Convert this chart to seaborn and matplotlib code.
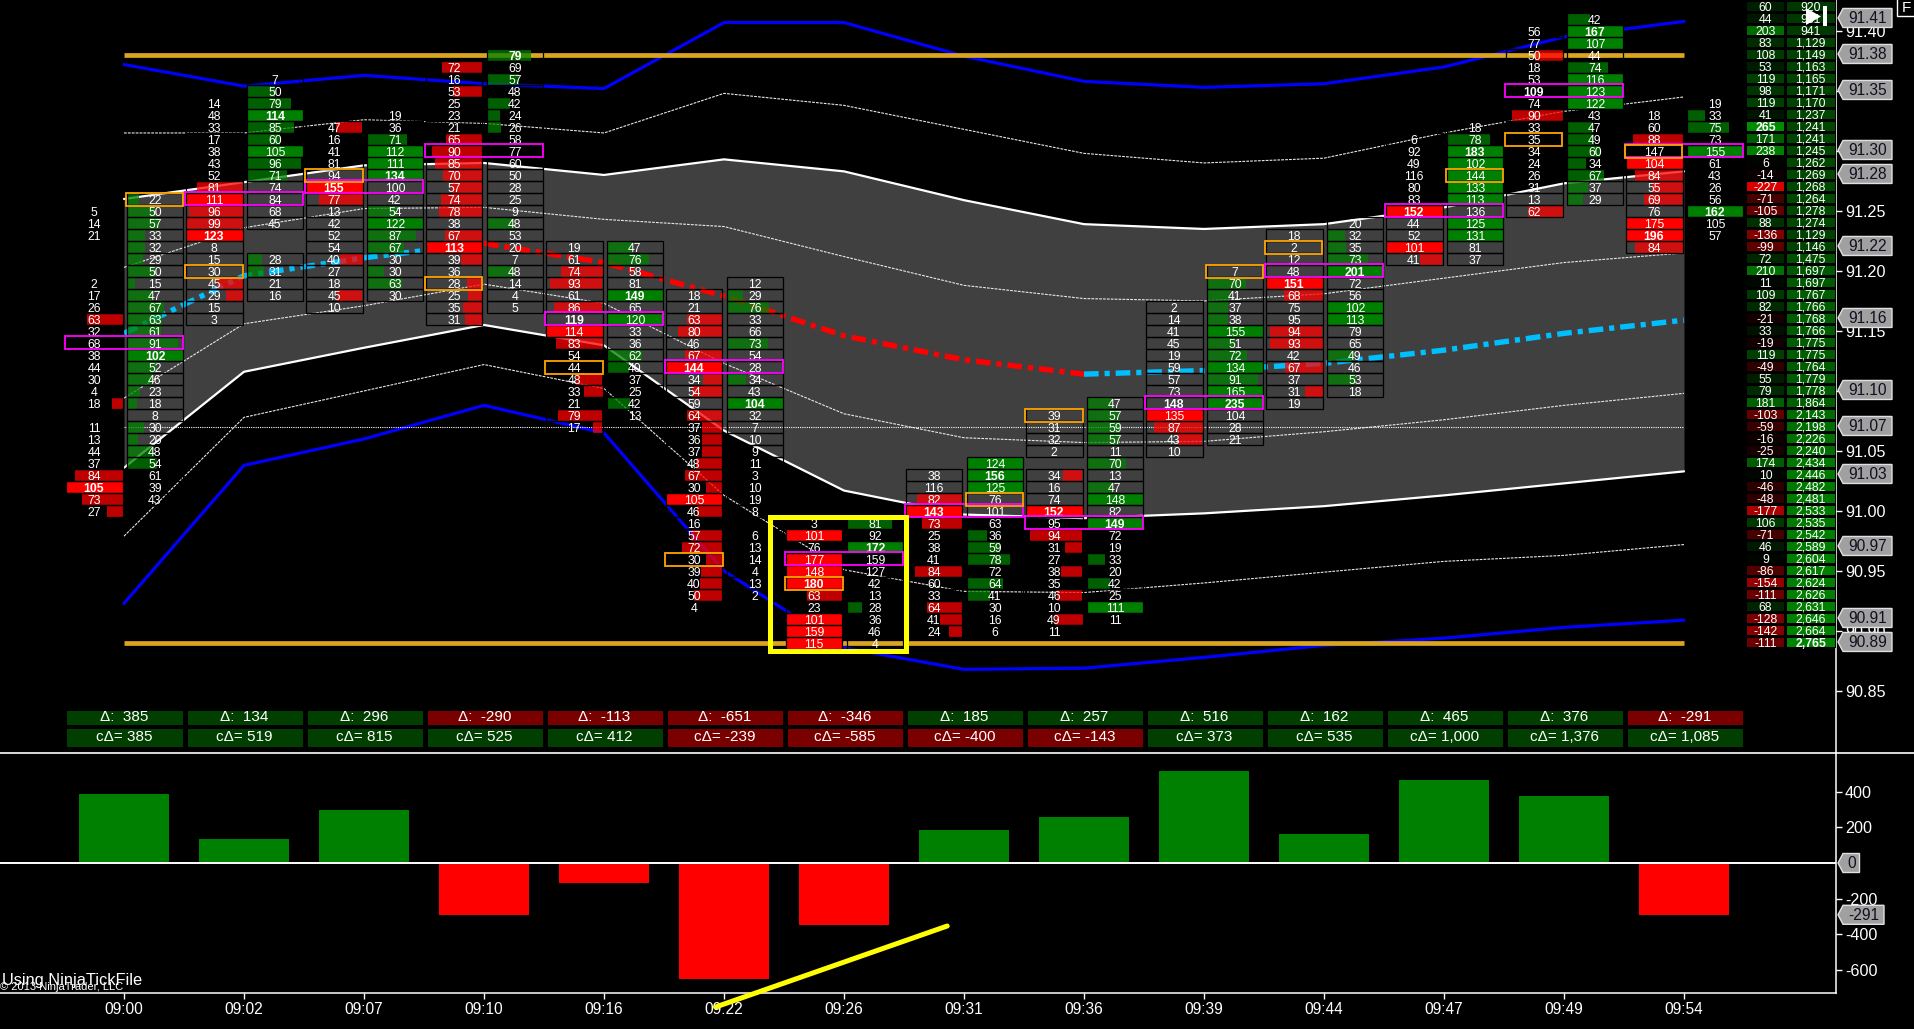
import numpy as np
import pandas as pd
import matplotlib
matplotlib.use("Agg")
import matplotlib.pyplot as plt
from matplotlib.colors import LinearSegmentedColormap, ListedColormap
from matplotlib.lines import Line2D
from matplotlib.patches import Polygon, Rectangle
from matplotlib.transforms import IdentityTransform
import seaborn as sns

times = ["09:00","09:02","09:07","09:10","09:16","09:22","09:26","09:31","09:36","09:39","09:44","09:47","09:49","09:54"]
delta = [385,134,296,-290,-113,-651,-346,185,257,516,162,465,376,-291]
cum_delta = [385,519,815,525,412,-239,-585,-400,-143,373,535,1000,1376,1085]

bid_top = [91.25,91.34,91.32,91.37,91.22,91.18,90.99,91.03,91.08,91.17,91.23,91.31,91.40,91.33]
ask_top = [91.26,91.36,91.33,91.38,91.22,91.19,90.99,91.04,91.09,91.20,91.24,91.32,91.41,91.34]

bid_vol = [
 [5,14,21,None,None,None,2,17,26,63,32,68,38,44,30,4,18,None,11,13,44,37,84,105,73,27],
 [14,48,33,17,38,43,52,81,111,96,99,123,8,15,30,45,29,15,3],
 [47,16,41,81,94,155,77,13,42,52,54,40,27,18,45,10],
 [72,16,53,25,23,21,65,90,85,70,57,74,78,38,67,113,39,36,28,25,35,31],
 [19,61,74,93,61,86,119,114,83,54,44,48,33,21,79,17],
 [18,21,63,80,46,67,144,34,54,59,64,37,36,37,48,67,30,105,46,16,57,72,30,39,40,50,4],
 [3,101,76,177,148,180,63,23,101,159,115],
 [38,116,82,143,73,25,38,41,84,60,33,64,41,24],
 [39,31,32,2,None,34,16,74,152,95,94,31,27,38,35,46,10,49,11],
 [2,14,41,45,19,59,57,73,148,135,87,43,10],
 [18,2,12,48,151,68,75,95,94,93,42,67,37,31,19],
 [6,92,49,116,80,83,152,44,52,101,41],
 [56,77,50,18,53,109,74,90,33,35,34,24,26,31,13,62],
 [18,60,88,147,104,84,55,69,76,175,196,84],
]
ask_vol = [
 [22,50,57,33,32,29,50,15,47,67,63,61,91,102,52,46,23,18,8,30,20,48,54,61,39,43],
 [7,50,79,114,85,60,105,96,71,74,84,68,45,None,None,28,31,21,16],
 [19,36,71,112,111,134,100,42,54,122,87,67,30,30,63,30],
 [79,69,57,48,42,24,26,58,77,60,50,28,25,9,48,53,20,7,48,14,4,5],
 [47,76,58,81,149,65,120,33,36,62,40,37,25,42,13],
 [12,29,76,33,66,73,54,28,34,43,104,32,7,10,9,11,3,10,19,8,None,6,13,14,4,13,2],
 [81,92,172,159,127,42,13,28,36,46,4],
 [124,156,125,76,101,63,36,59,78,72,64,41,30,16,6],
 [47,57,59,57,11,70,13,47,148,82,149,72,19,33,20,42,25,111,11],
 [7,70,41,37,38,155,51,72,134,91,165,235,104,28,21],
 [20,32,35,73,201,72,56,102,113,79,65,49,46,53,18],
 [18,78,183,102,144,133,113,136,125,131,81,37],
 [42,167,107,44,74,116,123,122,43,47,49,60,34,67,37,29],
 [19,33,75,73,155,61,43,26,56,162,105,57],
]
bid_imbalance = [
 "000000000 1 000000 1 00000 1111",
 "0000000 11111 000 11 00",
 "1 0000 11 0000 1 00 1 0",
 "1 0 1 000 1111111 0 111 0 1111",
 "00 11 0 1 0 11 00 11 0 11",
 "00 11 0 1111 0 111111111 0 111111 0",
 "0 1 0 1111 0 111",
 "00 111 000 1 00 111",
 "0000 0 1 00 1 0 11 0 1 0 1 0 1 0",
 "00000000 0 111 0",
 "0000 11 00 11 0 1 0 1 0",
 "000000 1 00 11",
 "00 1 0000 1 0000000 1",
 "00 1 0 1111 0 111",
]
ask_imbalance = [
 "111111111111111111 0 1111 000",
 "0 11111111 0000 00 11 00",
 "00 1111 00 1111 0 11 0",
 "1 0 1 0 111 0000000 1 000 1 000",
 "11 00 1 0 1 00 11 00 1 0",
 "0 11 00 1 00 1 0 1 0000000000000000",
 "1 0 1 0000 1 000",
 "111 000 111 0 11 000",
 "1111 0 1 0 11 0 1 00 1 0 1 0 1 0",
 "0 11111111111 000",
 "0 1111 00 11 00 1 0 1 0",
 "0 111111 0 11 00",
 "111 0 1111 0 1111111",
 "0 11 0 1 0000 1 00",
]
poc_price = [91.14,91.26,91.27,91.30,91.16,91.12,90.96,91.00,90.99,91.09,91.20,91.25,91.35,91.30]
va_side = ["ask","bid","bid","bid","bid","bid","bid","ask","bid","ask","bid","ask","bid","bid"]
va_price = [91.26,91.20,91.28,91.19,91.12,90.96,90.94,91.01,91.08,91.20,91.22,91.28,91.31,91.30]

upper_blue = [91.372,91.354,91.363,91.356,91.352,91.407,91.407,91.379,91.358,91.353,91.356,91.370,91.395,91.408]
dash_a = [91.315,91.315,91.326,91.323,91.315,91.348,91.338,91.318,91.298,91.290,91.294,91.315,91.333,91.345]
band_top = [91.260,91.274,91.288,91.290,91.280,91.293,91.283,91.259,91.239,91.235,91.239,91.253,91.273,91.283]
dash_b = [91.203,91.236,91.252,91.253,91.243,91.237,91.212,91.188,91.177,91.175,91.181,91.194,91.207,91.215]
ema = [91.148,91.196,91.211,91.223,91.207,91.179,91.146,91.126,91.114,91.117,91.123,91.134,91.148,91.159]
dash_c = [91.094,91.156,91.171,91.189,91.173,91.123,91.081,91.061,91.057,91.058,91.066,91.076,91.088,91.098]
band_bot = [91.036,91.116,91.136,91.155,91.138,91.067,91.017,90.997,90.994,90.998,91.004,91.013,91.023,91.033]
dash_d = [90.979,91.078,91.100,91.122,91.102,91.013,90.951,90.933,90.932,90.940,90.949,90.958,90.963,90.972]
lower_blue = [90.923,91.038,91.060,91.088,91.065,90.950,90.886,90.868,90.869,90.878,90.888,90.894,90.903,90.909]

table_delta = [60,44,203,83,108,53,119,98,119,41,265,171,238,6,-14,-227,-71,-105,88,-136,-99,72,210,11,109,82,-21,33,
               -19,119,-49,55,79,181,-103,-59,-16,-25,174,10,-46,-48,-177,106,-71,46,9,-86,-154,-111,68,-128,-142,-111]
table_cum = [920,931,941,1129,1149,1163,1165,1171,1170,1237,1241,1241,1245,1262,1269,1268,1264,1278,1274,1129,1146,1475,1697,1697,1767,1766,1768,1766,
             1775,1775,1764,1779,1778,1864,2143,2198,2226,2240,2434,2446,2482,2481,2533,2535,2542,2589,2604,2617,2624,2626,2631,2646,2664,2765]
price_markers = [91.41,91.38,91.35,91.30,91.28,91.22,91.16,91.10,91.07,91.03,90.97,90.91,90.89]
delta_markers = [0,-291]
gold_levels = [91.38,90.89]
session_level = 91.07

sns.set_theme(style="dark")
plt.rcParams["font.family"] = ["Liberation Sans", "DejaVu Sans"]
W, H = 1915, 1029
fig = plt.figure(figsize=(W/100, H/100), dpi=100, facecolor="black")

def axes_px(x0, y0, x1, y1):
    return fig.add_axes([x0/W, 1-y1/H, (x1-x0)/W, (y1-y0)/H])

ax = axes_px(0, 0, 1836, 753)
ax2 = axes_px(0, 753, 1836, 993)
for a in (ax, ax2):
    a.set_facecolor("black")
    a.grid(False)
xlim = (-124/120, (1836-124)/120)
xs = np.arange(len(times))
px = 1/120
py = 1/1200

GREY = "#404040"
ax.fill_between(xs, band_bot, band_top, color=GREY, lw=0, zorder=1)
for series, col, lw, ls in [
    (upper_blue, "#0000ff", 2.3, "-"), (lower_blue, "#0000ff", 2.3, "-"),
    (band_top, "white", 1.6, "-"), (band_bot, "white", 1.6, "-"),
    (dash_a, "#e8e8e8", 0.8, (0, (2.5, 1))), (dash_b, "#e8e8e8", 0.8, (0, (2.5, 1))),
    (dash_c, "#e8e8e8", 0.8, (0, (2.5, 1))), (dash_d, "#e8e8e8", 0.8, (0, (2.5, 1))),
]:
    sns.lineplot(x=xs, y=series, ax=ax, color=col, lw=lw, linestyle=ls, errorbar=None, legend=False, zorder=2)
for level in gold_levels:
    ax.plot([0, 13], [level, level], color="#daa520", lw=3.4, solid_capstyle="butt", zorder=2.1)
ax.plot([0, 13], [session_level]*2, color="white", lw=0.8, ls=(0, (1, 1)), zorder=2.1)
dashdot = (0, (2.7, 1.1, 0.95, 1.1))
for a_, b_, col in [(0, 4, "#00bfff"), (3, 9, "#ff0000"), (8, 14, "#00bfff")]:
    sns.lineplot(x=xs[a_:b_], y=ema[a_:b_], ax=ax, color=col, lw=3.9, linestyle=dashdot,
                 dash_capstyle="butt", errorbar=None, legend=False, zorder=2.2)

def draw_col(k, top, vals, flags, side):
    flags = flags.replace(" ", "")
    assert len(flags) == len(vals), (k, side, len(flags), len(vals))
    numeric = [v for v in vals if v is not None]
    mx = max(numeric)
    for i, (v, f) in enumerate(zip(vals, flags)):
        if v is None:
            continue
        p = top - i*0.01
        if side == "bid":
            left, right, tx = k-58*px, k-1.5*px, k-30*px
        else:
            left, right, tx = k+2.8*px, k+59*px, k+31*px
        ax.add_patch(Rectangle((left, p-0.005), right-left, 0.01, fc="none", ec="black", lw=0.9, zorder=4))
        if f == "1":
            w = min(v*0.56, 56.5)*px
            base = "#ff0000" if side == "bid" else "#008000"
            x0 = right-w if side == "bid" else left
            ax.add_patch(Rectangle((x0, p-0.0046-py), w, 0.0092, fc=base, ec="none",
                                   alpha=1 if v >= 100 else 0.75, zorder=3))
        ax.text(tx, p-0.0017, str(v), color="white", ha="center", va="center", fontsize=8.8,
                fontweight="bold" if v == mx else "normal", zorder=6)

for k in range(len(times)):
    draw_col(k, bid_top[k], bid_vol[k], bid_imbalance[k], "bid")
    draw_col(k, ask_top[k], ask_vol[k], ask_imbalance[k], "ask")
    ax.add_patch(Rectangle((k-59*px, poc_price[k]-0.0054), 118.4*px, 0.0108, fc="none", ec="#ff00ff", lw=1.3, zorder=7))
    x0 = k-59*px if va_side[k] == "bid" else k+1.7*px
    ax.add_patch(Rectangle((x0, va_price[k]-0.0058), 57.5*px, 0.0108, fc="none", ec="#ffa500", lw=1.3, zorder=8))

ax.add_patch(Rectangle((5.386, 90.8832), 1.128, 0.112, fc="none", ec="#ffff00", lw=3.6, zorder=9))

ax.set_xlim(*xlim)
ax.set_ylim(91.4258-753/1200, 91.4258)
ax.set_xticks([])
ax.set_ylabel("")
ax.set_yticks(np.round(np.arange(90.85, 91.41, 0.05), 2))
ax.set_yticklabels([f"{v:.2f}" for v in np.round(np.arange(90.85, 91.41, 0.05), 2)])
ax.yaxis.tick_right()
ax.tick_params(axis="y", colors="white", length=4.5, width=1, labelsize=11.6, pad=2, right=True, left=False)
for s in ("left", "top", "bottom"):
    ax.spines[s].set_visible(False)
ax.spines["right"].set_color("white")
ax.spines["right"].set_linewidth(1.1)

df = pd.DataFrame({"k": xs, "delta": delta, "side": ["up" if d > 0 else "down" for d in delta]})
sns.barplot(data=df, x="k", y="delta", hue="side", palette={"up": "#008000", "down": "#ff0000"},
            native_scale=True, dodge=False, width=0.75, saturation=1, legend=False,
            errorbar=None, linewidth=0, ax=ax2)
ax2.axhline(0, color="white", lw=1.4, zorder=5)
ax2.set_xlim(*xlim)
ax2.set_ylim((863-993)/0.178, (863-753)/0.178)
ax2.set_xlabel("")
ax2.set_ylabel("")
ax2.set_xticks(xs)
ax2.set_xticklabels(times)
ax2.set_yticks([400, 200, -200, -400, -600])
ax2.set_yticklabels(["400", "200", "-200", "-400", "-600"])
ax2.yaxis.tick_right()
ax2.tick_params(axis="y", colors="white", length=4.5, width=1, labelsize=11.6, pad=2, right=True, left=False)
ax2.tick_params(axis="x", colors="white", length=4.5, width=1, labelsize=11.2, pad=2, bottom=True)
for s in ("left", "top"):
    ax2.spines[s].set_visible(False)
for s in ("right", "bottom"):
    ax2.spines[s].set_color("white")
    ax2.spines[s].set_linewidth(1.1)
ax2.plot([4.93, 6.86], [-809, -354], color="#ffff00", lw=3.6, clip_on=False, zorder=9, solid_capstyle="round")

strip_cmap = ListedColormap(["#7a0000", "#003f00"])
def strip(vals, labels, y0, y1):
    a = axes_px(64.5, y0, 1744.5, y1)
    sns.heatmap(np.array([[1 if v > 0 else 0 for v in vals]]), ax=a, cmap=strip_cmap, vmin=0, vmax=1, cbar=False,
                annot=np.array([labels]), fmt="", linewidths=2.2, linecolor="black",
                annot_kws={"color": "white", "fontsize": 11}, xticklabels=False, yticklabels=False)
strip(delta, [f"Δ:  {v:,}" for v in delta], 707.5, 727)
strip(cum_delta, [f"cΔ= {v:,}" for v in cum_delta], 725.5, 748.5)

td = np.array(table_delta)[:, None]
tc = np.array(table_cum)[:, None]
a1 = axes_px(1745.5, 0, 1785.5, 648)
a2 = axes_px(1785.5, 0, 1836, 648)
cm_d = LinearSegmentedColormap.from_list("d", [(1, 0, 0), (0, 0, 0), (0, 0.55, 0)])
cm_c = LinearSegmentedColormap.from_list("c", [(0, 0.22, 0), (0, 0.52, 0)])
sns.heatmap(td, ax=a1, cmap=cm_d, vmin=-265, vmax=265, cbar=False, annot=np.array([[f"{v}"] for v in table_delta]),
            fmt="", linewidths=0.8, linecolor="black", annot_kws={"color": "white", "fontsize": 8.8},
            xticklabels=False, yticklabels=False)
sns.heatmap(tc, ax=a2, cmap=cm_c, vmin=900, vmax=2765, cbar=False, annot=np.array([[f"{v:,}"] for v in table_cum]),
            fmt="", linewidths=0.8, linecolor="black", annot_kws={"color": "white", "fontsize": 8.8},
            xticklabels=False, yticklabels=False)
for a, best in ((a1, "265"), (a2, "2,765")):
    for t in a.texts:
        x_, y_ = t.get_position()
        t.set_position((x_, y_ + 0.13))
        if t.get_text() == best:
            t.set_fontweight("bold")

I = IdentityTransform()
def marker(y_disp, label, right):
    pts = [(1838, y_disp), (1843, y_disp+9.5), (right, y_disp+9.5), (right, y_disp-9.5), (1843, y_disp-9.5)]
    fig.add_artist(Polygon(pts, closed=True, fc="#a0a0a0", ec="#e0e0e0", lw=1, transform=I, zorder=10))
    fig.text((1843+right)/2, y_disp-0.5, label, transform=I, color="#101020", fontsize=11.2, ha="center", va="center", zorder=11)

for p in price_markers:
    marker(ax.transData.transform((0, p))[1] + 1, f"{p:.2f}", 1892)
for d in delta_markers:
    marker(ax2.transData.transform((0, d))[1], f"{d}", 1859.5 if d == 0 else 1884)

fig.add_artist(Line2D([0, W], [H-753, H-753], color="white", lw=1.2, transform=I, zorder=3))
fig.add_artist(Polygon([(1806, H-8), (1806, H-25), (1821, H-16.5)], closed=True, fc="white", ec="none", transform=I, zorder=12))
fig.add_artist(Rectangle((1823, H-26), 4, 20, fc="white", ec="none", transform=I, zorder=12))
fig.add_artist(Rectangle((1897, H-16), 20, 18, fc="black", ec="white", lw=1, transform=I, zorder=12))
fig.text(1906, H-8, "F", transform=I, color="white", fontsize=11, ha="center", va="center", zorder=13)
fig.text(2, H-980, "Using NinjaTickFile", transform=I, color="white", fontsize=11.8, ha="left", va="center", zorder=13)
fig.text(0, H-987, "© 2013 NinjaTrader, LLC", transform=I, color="white", fontsize=8, ha="left", va="center", zorder=13)

fig.savefig("out.png", dpi=100, facecolor="black")
